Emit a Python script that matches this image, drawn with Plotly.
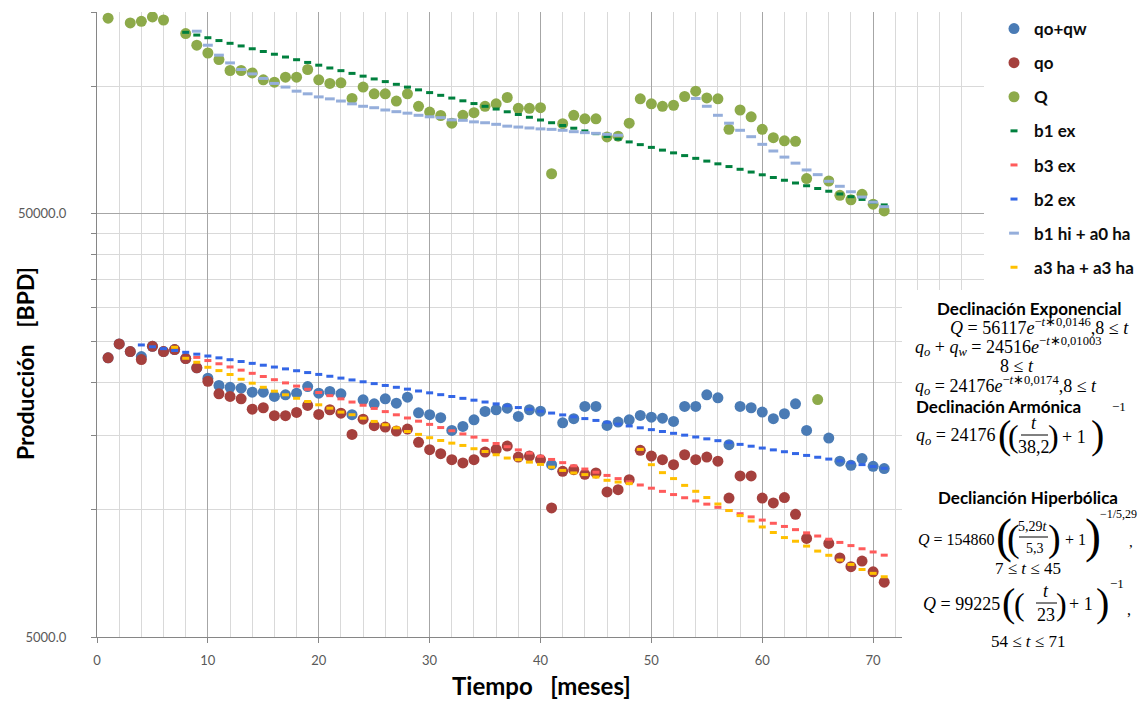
import math
import plotly.graph_objects as go

# ---------------- data ----------------
t = list(range(1, 72))

Q = [145000, None, 141300, 142600, 146000, 143600, None, 133400, 125200, 120000,
     115800, 109100, 109100, 107700, 103700, 102400, 105200, 105200, 109700, 103700,
     101700, 102000, 93700, 99700, 96100, 96100, 92400, 96100, 89800, 87000,
     85400, 81900, 85500, 86700, 89800, 91000, 94200, 88800, 88800, 89100,
     62200, 81700, 85500, 83900, 83900, 76000, 76300, 81900, 93500, 91000,
     89800, 90300, 94700, 97500, 94000, 93500, 79200, 88000, 84800, 79200,
     75700, 74400, 74200, 60600, 18200, 59800, 55300, 54000, 55600, 52700, 50800]

qo = [22840, 24640, 23630, 22630, 24320, 23630, 23890, 22750, 21630, 20110,
      18780, 18510, 18280, 17270, 17410, 16670, 16670, 16970, 17630, 16790,
      17220, 16900, 15060, 16360, 15790, 15670, 15330, 15500, 14420, 13860,
      13560, 13120, 12890, 13120, 13680, 13880, 14130, 13310, 13380, 13120,
      10090, 12320, 12430, 12120, 12210, 11010, 11150, 11770, 13810, 13380,
      13120, 12770, 13480, 13120, 13310, 13020, 10650, 12010, 12010, 10650,
      10370, 10680, 9750, 8550, None, 8320, 7690, 7330, 7560, 7130, 6740]

qoqw = [22840, 24640, 23630, 23000, 24320, 23630, 23890, 22750, 21630, 20440,
        19650, 19460, 19360, 18950, 18950, 18510, 18680, 18850, 19540, 18850,
        19020, 18780, 16760, 18180, 17790, 18280, 17850, 18440, 16940, 16760,
        16490, 15390, 15730, 16300, 17060, 17220, 17370, 16610, 17220, 17090,
        12770, 16040, 16400, 17530, 17530, 15810, 16100, 16300, 16700, 16540,
        16450, 16160, 17530, 17530, 18680, 18380, 14240, 17530, 17410, 17000,
        16400, 16850, 17790, 15390, None, 14760, 13020, 12730, 13200, 12660, 12500]

# trend series (dash markers), read point by point
t_b1ex = list(range(8, 72))
b1_ex = [134300, 132300, 130400, 128400, 126500, 124700, 122800, 121000, 119200, 117400,
         115700, 114000, 112300, 110600, 109000, 107400, 105800, 104200, 102700, 101200,
         99670, 98200, 96740, 95310, 93900, 92510, 91140, 89790, 88460, 87150,
         85870, 84590, 83340, 82110, 80890, 79700, 78520, 77360, 76210, 75080,
         73970, 72880, 71800, 70740, 69690, 68660, 67640, 66640, 65650, 64680,
         63730, 62780, 61850, 60940, 60040, 59150, 58270, 57410, 56560, 55720,
         54900, 54090, 53290, 52500]

t_b3ex = list(range(9, 72))
b3_ex = [22899, 22505, 22117, 21737, 21363, 20995, 20634, 20279, 19930, 19587,
         19250, 18918, 18593, 18273, 17958, 17649, 17345, 17047, 16754, 16465,
         16182, 15903, 15630, 15361, 15096, 14837, 14581, 14330, 14084, 13841,
         13603, 13369, 13139, 12913, 12690, 12472, 12257, 12046, 11839, 11635,
         11435, 11238, 11045, 10854, 10668, 10484, 10303, 10126, 9952, 9781,
         9612, 9447, 9284, 9125, 8968, 8813, 8662, 8513, 8366, 8222,
         8081, 7942, 7805]

t_b2ex = list(range(4, 72))
b2_ex = [24500, 24256, 24014, 23775, 23538, 23303, 23071, 22841, 22613, 22388,
         22165, 21944, 21725, 21509, 21294, 21082, 20872, 20664, 20458, 20254,
         20052, 19852, 19654, 19458, 19264, 19072, 18882, 18694, 18508, 18323,
         18141, 17960, 17781, 17604, 17428, 17255, 17083, 16912, 16744, 16577,
         16412, 16248, 16086, 15926, 15767, 15610, 15454, 15300, 15148, 14997,
         14847, 14699, 14553, 14408, 14264, 14122, 13981, 13842, 13704, 13567,
         13432, 13298, 13166, 13034, 12904, 12776, 12649, 12523]

t_b1hi = list(range(9, 72))
b1hi_a0ha = [135100, 125200, 118600, 113700, 109700, 107100, 104500, 101700, 99700, 97500,
             96100, 94500, 93500, 92400, 91000, 89800, 89100, 88000, 87200, 86500,
             85500, 84800, 84400, 83400, 83200, 82500, 82100, 81400, 80600, 80200,
             79800, 79400, 79200, 78800, 78200, 77800, 77500, 77100, 76700,
             None, None, None, None, None, None,
             93700, 89800, 85500, 81900, 78800, 76100, 73000, 70400, 68100, 65900,
             63500, 61900, 59700, 58100, 56400, 54800, 53300, 52000]

t_a3ha = list(range(7, 72))
a3ha_a3ha = [24190, 22790, 22300, 21700, 21310, 20860, 20330, 19900, 19460, 19050,
             18680, 18330, 18010, 17690, 17370, 17000, 16760, 16450, 16160, 15870,
             15610, 15300, 15060, 14790, 14570, 14360, 14180, 13930, 13720, 13480,
             13240, 13120, 12950, 12790, 12600, 12380, 12210, 12100, 11940, 11730,
             11620, 11520, 13880, 12770, 12230, 11840, 11410, 11050, 10680, 10310,
             9950, 9680, 9400, 9100, 8830, 8590, 8420, 8200, 7980, 7800,
             7600, 7420, 7220, 7070, 6940]

x_ticks = [0, 10, 20, 30, 40, 50, 60, 70, 80]
y_ticks = [5000, 50000]
y_ticktext = ["5000.0", "50000.0"]
y_minor = [10000, 15000, 20000, 25000, 30000, 35000, 40000, 45000, 100000, 150000]

# ---------------- styling ----------------
W, H = 1142, 702
L, R, T, B = 97, 984, 12, 637
SANS = "Lato"
SERIF = "Liberation Serif"


def px(x):
    return (x - L) / (R - L)


def py(y):
    return (B - y) / (B - T)


fig = go.Figure()


def pts(x, y, name, color):
    fig.add_trace(go.Scatter(x=x, y=y, name=name, mode="markers", legendgroup=name,
                             marker=dict(symbol="circle", size=11, color=color,
                                         line=dict(width=0))))


def dashes(x, y, name, color, size=5):
    fig.add_trace(go.Scatter(x=x, y=y, name=name, mode="markers", legendgroup=name,
                             marker=dict(symbol="line-ew", size=size, color=color,
                                         line=dict(width=3, color=color))))


pts(t, qoqw, "qo+qw", "#4A7BB5")
pts(t, qo, "qo", "#A5403D")
pts(t, Q, "Q", "#8DAA4A")
dashes(t_b1ex, b1_ex, "b1 ex", "#00803E")
dashes(t_b3ex, b3_ex, "b3 ex", "#FF5B5B")
dashes(t_b2ex, b2_ex, "b2 ex", "#3366E6")
dashes(t_b1hi, b1hi_a0ha, "b1 hi + a0 ha", "#95AEDB", size=7)
dashes(t_a3ha, a3ha_a3ha, "a3 ha + a3 ha", "#FFC000")

annotations = []
shapes = []


def ann(text, x, y, size, family=SERIF, xanchor="center", color="#000000", angle=0):
    annotations.append(dict(text=text, x=px(x), y=py(y), xref="paper", yref="paper",
                            xanchor=xanchor, yanchor="middle", showarrow=False,
                            textangle=angle, borderpad=0,
                            font=dict(family=family, size=size, color=color)))


def bar(x0, x1, y):
    shapes.append(dict(type="line", xref="paper", yref="paper", x0=px(x0), x1=px(x1),
                       y0=py(y), y1=py(y), line=dict(color="#000000", width=1),
                       layer="above"))


# white text box covering the right part of the grid
shapes.append(dict(type="rect", xref="paper", yref="paper", x0=px(902), x1=px(1150),
                   y0=py(290), y1=py(710), fillcolor="#FFFFFF",
                   line=dict(width=0), layer="above"))

# axis titles
ann("<b>Producción\u00a0\u00a0 [BPD]</b>", 25, 364, 23, SANS, angle=-90)
ann("<b>Tiempo\u00a0\u00a0 [meses]</b>", 541, 685, 24, SANS)

# equations
ann("<b>Declinación Exponencial</b>", 1029, 308, 17, SANS)
ann("<i>Q</i> = 56117<i>e</i><sup>−<i>t</i>∗0,0146</sup>,8 ≤ <i>t</i>", 1039, 326, 18)
ann("<i>q<sub>o</sub></i> + <i>q<sub>w</sub></i> = 24516<i>e</i><sup>−<i>t</i>∗0,01003</sup>",
    914, 346, 18, xanchor="left")
ann("8 ≤ <i>t</i>", 1017, 366, 18)
ann("<i>q<sub>o</sub></i> = 24176<i>e</i><sup>−<i>t</i>∗0,0174</sup>,8 ≤ <i>t</i>",
    914, 385, 18, xanchor="left")
ann("<b>Declinación Armónica</b>", 915, 406, 17, SANS, xanchor="left")

# harmonic qo
ann("<i>q<sub>o</sub></i> = 24176", 996, 437, 18, xanchor="right")
ann("(", 1004, 434, 40)
ann("(", 1013, 436, 32)
ann("<i>t</i>", 1034, 423, 18)
bar(1021, 1048, 435)
ann("38,2", 1034, 447, 18)
ann(")", 1053, 436, 32)
ann("+ 1", 1074, 437, 18)
ann(")", 1097, 434, 40)
ann("−1", 1119, 406, 13)

# hyperbolic
ann("<b>Declianción Hiperbólica</b>", 1028, 497, 17, SANS)
ann("<i>Q</i> = 154860", 996, 539, 16, xanchor="right")
ann("(", 1004, 536, 48)
ann("(", 1014, 538, 38)
ann("5,29<i>t</i>", 1033, 526, 14)
bar(1019, 1048, 537)
ann("5,3", 1035, 548, 14)
ann(")", 1054, 538, 38)
ann("+ 1", 1075, 539, 16)
ann(")", 1093, 536, 48)
ann("−1/5,29", 1118, 514, 12)
ann(",", 1131, 542, 15)
ann("7 ≤ <i>t</i> ≤ 45", 1028, 568, 17)

# harmonic Q
ann("<i>Q</i> = 99225", 1001, 604, 18, xanchor="right")
ann("(", 1009, 602, 40)
ann("(", 1019, 604, 32)
ann("<i>t</i>", 1046, 591, 18)
bar(1036, 1057, 603)
ann("23", 1046, 615, 18)
ann(")", 1061, 604, 32)
ann("+ 1", 1081, 604, 18)
ann(")", 1102, 602, 40)
ann("−1", 1117, 583, 13)
ann(",", 1129, 609, 16)
ann("54 ≤ <i>t</i> ≤ 71", 1028, 641, 17)

GRID_MAJ = "#A6A6A6"
GRID_MIN = "#D9D9D9"
AXIS = "#868686"

fig.update_layout(
    width=W, height=H,
    margin=dict(l=L, r=W - R, t=T, b=H - B, pad=0, autoexpand=False),
    paper_bgcolor="#FFFFFF", plot_bgcolor="#FFFFFF",
    font=dict(family=SANS, color="#000000"),
    showlegend=True,
    legend=dict(x=px(994), y=py(11), xanchor="left", yanchor="top",
                bgcolor="rgba(0,0,0,0)", borderwidth=0,
                font=dict(family=SANS, size=17, color="#0D0D0D", weight="bold"),
                tracegroupgap=9, traceorder="grouped", itemsizing="trace"),
    xaxis=dict(range=[0, 80], tickvals=x_ticks, showgrid=True, gridcolor=GRID_MAJ,
               gridwidth=1.3, zeroline=False, showline=True, linecolor=AXIS,
               linewidth=1.3, ticks="outside", ticklen=5, tickcolor=AXIS,
               tickwidth=1.3, ticklabelstandoff=6,
               tickfont=dict(family=SANS, size=13, color="#595959"),
               minor=dict(dtick=2, showgrid=True, gridcolor=GRID_MIN, gridwidth=1.3,
                          ticks="")),
    yaxis=dict(type="log", range=[math.log10(5000), math.log10(150000)],
               tickvals=y_ticks, ticktext=y_ticktext, showgrid=True,
               gridcolor=GRID_MAJ, gridwidth=1.3, zeroline=False, showline=True,
               linecolor=AXIS, linewidth=1.3, ticks="outside", ticklen=5,
               tickcolor=AXIS, tickwidth=1.3, ticklabelstandoff=22,
               tickfont=dict(family=SANS, size=13, color="#595959"),
               minor=dict(tickvals=y_minor, showgrid=True, gridcolor=GRID_MIN,
                          gridwidth=1.3, ticks="outside", ticklen=5,
                          tickcolor=AXIS)),
    annotations=annotations,
    shapes=shapes,
)

fig.write_html("out.html", config={"displayModeBar": False},
               post_script="document.body.style.margin='0';")
